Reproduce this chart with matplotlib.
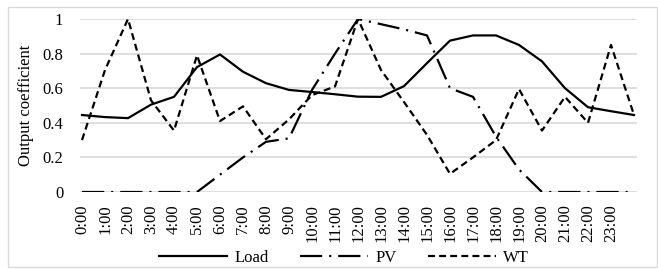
import numpy as np
import matplotlib
matplotlib.use("Agg")
import matplotlib.pyplot as plt
from matplotlib.patches import Rectangle

plt.rcParams['font.family'] = ['Liberation Serif', 'DejaVu Serif']
plt.rcParams['lines.scale_dashes'] = False

# hourly points (last point closes the day)
hours = np.arange(25)
tick_labels = [f"{h}:00" for h in range(24)]

load = [0.445, 0.433, 0.427, 0.505, 0.55, 0.722, 0.795, 0.695, 0.629, 0.59,
        0.578, 0.565, 0.551, 0.55, 0.612, 0.745, 0.875, 0.905, 0.905, 0.85,
        0.755, 0.60, 0.49, 0.467, 0.445]
pv = [0, 0, 0, 0, 0, 0, 0.1, 0.2, 0.29, 0.31,
      0.59, 0.8, 1.0, 0.97, 0.94, 0.905, 0.6, 0.55, 0.32, 0.13,
      0, 0, 0, 0, 0]
wt = [0.3, 0.705, 1.0, 0.53, 0.355, 0.79, 0.41, 0.495, 0.305, 0.42,
      0.56, 0.61, 1.0, 0.705, 0.52, 0.33, 0.105, 0.2, 0.3, 0.595,
      0.355, 0.55, 0.40, 0.85, 0.445]

W, H = 658, 269
fig = plt.figure(figsize=(W / 100, H / 100), dpi=100)
ax = fig.add_axes([80 / W, 1 - 192 / H, (637 - 80) / W, (192 - 19) / H])

ax.plot(hours, load, color='black', lw=1.6, label='Load')
ax.plot(hours, pv, color='black', lw=1.6, linestyle=(0, (16, 5, 1.5, 5)), label='PV')
ax.plot(hours, wt, color='black', lw=1.6, linestyle=(0, (5, 3)), label='WT')

ax.set_xlim(-0.087, 24.13)
ax.set_ylim(0, 1)
ax.set_yticks([0, 0.2, 0.4, 0.6, 0.8, 1])
ax.set_yticklabels(['0', '0.2', '0.4', '0.6', '0.8', '1'])
ax.set_xticks(range(24))
ax.set_xticklabels(tick_labels, rotation=90)
ax.tick_params(axis='y', length=0, pad=12, labelsize=12)
ax.tick_params(axis='x', length=0, pad=9, labelsize=12)
ax.grid(axis='y', color='#d9d9d9', lw=1.2)
ax.set_axisbelow(True)
for s in ax.spines.values():
    s.set_visible(False)
ax.set_ylabel('Output coefficient', fontsize=12, labelpad=6)

fig.legend(loc='center', bbox_to_anchor=(344 / W, 1 - 258 / H), ncol=3,
           frameon=False, fontsize=12, handlelength=4.1, handletextpad=0.4,
           columnspacing=1.9)

fig.patches.append(Rectangle((8 / W, 2 / H), 649 / W, 260 / H, transform=fig.transFigure,
                             fill=False, edgecolor='#d9d9d9', lw=1))

fig.savefig('out.png', dpi=100)
